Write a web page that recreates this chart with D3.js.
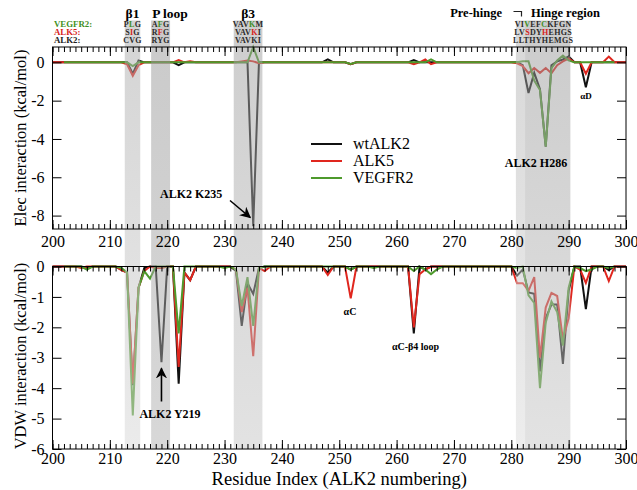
<!DOCTYPE html>
<html><head><meta charset="utf-8">
<script src="https://cdn.jsdelivr.net/npm/d3@7"></script>
<style>body{margin:0;background:#fff}svg{display:block;font-family:"Liberation Serif","Times New Roman",serif}</style>
</head><body><svg id="c" width="637" height="490"></svg>
<script>
// ---------------- data ----------------
const residues = d3.range(200, 301);
const seriesNames = ["wtALK2", "ALK5", "VEGFR2"];
const xTickLabels = [200,210,220,230,240,250,260,270,280,290,300];
const elecTickLabels = [0,-2,-4,-6,-8];
const vdwTickLabels = [0,-1,-2,-3,-4,-5,-6];

const elecALK2 = [
 0,0,0,0,0,0,0,0,0,0,
 0,0,0,0,-0.6,0.1,0,0,0,0,
 0,0,-0.15,0,0,0,0,0,0,0,
 0,0,0,0,0,-8.55,0,0,0,0,
 0,0,0,0,0,0,0,0,0.15,0,
 0,0,-0.1,0,0,0,0,0,0,0,
 0,0,0,0.12,0,0,0,0,0,0,
 0,0,0,0,0,0,0,0,0,0,
 0,0,-0.15,-1.6,-0.55,-1.4,-4.4,-0.15,0.05,0.15,
 0.3,0,0,-1.3,0,0,0,0,0,0,
 0];
const elecALK5 = [
 0,0,0,0,0,0,0,0,0,0,
 0,0,0,-0.1,-0.7,-0.15,0,0,0,0,
 0,0,0.12,0,0.06,0,0,0,0,0,
 0,0,0,0.05,0.1,0.05,-0.05,0,0,0,
 0,0,0,0,0,0,0,0,0,0,
 0,0,-0.1,0,0,0,0,0,0,0,
 0,0,0,-0.1,0,0.15,-0.1,0,0,0,
 0,0,0,0,0,0,0,0,0,0,
 0,-0.05,-0.2,-0.57,-0.3,-0.55,-0.3,-0.57,-0.15,0.05,
 0.2,0,0,-0.6,0,0,0,0.3,0,0,
 0];
const elecVEGFR2 = [
 null,null,0,0,0,0,0,0,0,0,
 0,0,0,0,-0.2,0,0,0,0,0,
 0,0,0,0,0,0,0,0,0,0,
 0,0,0,0,0,0.8,0,0,0,0,
 0,0,0,0,0,0,0,0,0,0,
 0,0,-0.08,0,0,0,0,0,0,0,
 0,0,0,0,0,0,0.15,0,0,0,
 0,0,0,0,0,0,0,0,0,0,
 0,0,0.05,0.05,-0.95,-1.45,-4.4,-0.3,0.1,0.35,
 0.1,0,0,0,0,0,0,0,0,null,
 null];

const vdwALK2 = [
 0,0,0,0,0,0,-0.05,0,0,0,
 0,0,-0.1,-0.2,-3.9,-0.7,-0.05,0,0,-3.15,
 0,0,-3.85,-0.2,-0.45,0,0,0,0,0,
 0,0,-0.15,-1.95,-0.55,-0.9,-0.05,0,0,0,
 0,0,0,0,0,0,0,0,-0.2,0,
 0,0,-0.1,0,0,0,0,0,0,0,
 0,0,0,-2.2,0,-0.1,0,0,0,0,
 0,0,0,0,0,0,0,0,0,0,
 0,-0.3,-0.1,-0.85,-0.9,-3.45,-1.7,-1.25,-1.25,-3.2,
 -0.8,0,0,-1.4,0,0,0,-0.12,0,0,
 0];
const vdwALK5 = [
 0,0,0,0,0,-0.05,0,0,0,0,
 0,0,-0.12,-0.2,-3.85,-0.7,-0.15,0,-0.05,-0.05,
 0,0,-3.3,-0.2,-0.45,0,0,0,0,0,
 0,0,-0.1,-1.5,-0.7,-2.95,-0.05,-0.15,0,0,
 0,0,0,0,0,0,0,0,-0.28,0,
 0,0,-1.05,0,0,0,0,0,0,0,
 0,0,0,-2.0,-0.25,-0.1,0,0,0,0,
 0,0,0,0,0,0,0,0,0,0,
 0,-0.55,-0.55,-0.8,-0.35,-3.0,-1.35,-0.87,-0.97,-2.4,
 -1.7,0,-0.1,-0.54,0,0,0,-0.48,0,0,
 0];
const vdwVEGFR2 = [
 null,null,0,0,0,0,-0.1,0,0,0,
 0,0,-0.05,-0.2,-4.9,-0.7,-0.15,-0.4,0,0,
 0,0,-2.2,0,0,0,0,0,0,0,
 -0.05,0,-0.1,-1.3,-0.35,-1.95,-0.05,0,0,0,
 0,0,0,0,0,0,0,0,0,0,
 0,0,-0.1,0,0,0,-0.05,0,0,0,
 0,0,0,-0.15,0,-0.1,-0.25,-0.1,0,0,
 0,0,0,0,0,0,0,0,0,0,
 0,-0.05,0,-0.95,-1.2,-4.0,-1.85,-1.15,-1.5,-2.6,
 -0.7,0,-0.05,-0.15,-0.1,0,0,-0.05,0,null,
 null];

// highlighted residue ranges (residue numbers)
const bandRanges = [[212.6,215.3],[217.2,220.5],[231.6,236.6],[280.8,282.4],[282.4,290.3]];
const regionNames = ["β1","P loop","β3"];
const seqSpecies = ["VEGFR2:","ALK5:","ALK2:"];
const seqVEGFR2 = ["PLG","AFG","VAVKM","VIVEFCKFGN"];
const seqALK5   = ["SIG","RFG","VAVKI","LVSDYHEHGS"];
const seqALK2   = ["CVG","RYG","VAVKI","LLTHYHEMGS"];
const seqMarkVEGFR2 = [[1],[1],[3],[2,5]];
const seqMarkALK5   = [[1],[1],[3],[2,5]];

// ---------------- drawing ----------------
const svg = d3.select("#c");
const colors = ["#111111","#e0261e","#4e9a2c"];
const seqColors = ["#3f8f25","#d8231c","#222"];
const X0 = 52.5, X1 = 626;
const x = d3.scaleLinear().domain([200,300]).range([X0,X1]);
const yE = d3.scaleLinear().domain([-8.7,0.8]).range([229,47]);
const yV = d3.scaleLinear().domain([-6,0]).range([449,266.5]);

function drawLines(yScale, arrays){
  arrays.forEach((arr,k)=>{
    const line = d3.line().defined(d=>d!=null)
      .x((d,i)=>x(residues[i])).y(d=>yScale(d));
    svg.append("path").datum(arr).attr("d",line)
      .attr("fill","none").attr("stroke",colors[k]).attr("stroke-width",2)
      .attr("stroke-linejoin","miter");
  });
}
drawLines(yE,[elecALK2,elecALK5,elecVEGFR2]);
drawLines(yV,[vdwALK2,vdwALK5,vdwVEGFR2]);

// bands (translucent overlay, darker at top)
const defs = svg.append("defs");
const bandTopBottom = [[168,215],[149,176],[155,198],[176,219],[151,198]];
bandRanges.forEach((b,i)=>{
  const g = defs.append("linearGradient").attr("id","bg"+i)
    .attr("gradientUnits","userSpaceOnUse").attr("x1",0).attr("x2",0).attr("y1",20).attr("y2",449);
  const [t,bt] = bandTopBottom[i];
  g.append("stop").attr("offset",0).attr("stop-color",`rgb(${t},${t},${t})`).attr("stop-opacity",0.5);
  g.append("stop").attr("offset",1).attr("stop-color",`rgb(${bt},${bt},${bt})`).attr("stop-opacity",0.5);
  svg.append("rect").attr("x",x(b[0])).attr("width",x(b[1])-x(b[0]))
    .attr("y",20.5).attr("height",428.5).attr("fill",`url(#bg${i})`);
});

// frames and axes
function panel(yScale, ticks, top, bottom, labelPad){
  svg.append("rect").attr("x",X0).attr("y",top).attr("width",X1-X0).attr("height",bottom-top)
    .attr("fill","none").attr("stroke","#000").attr("stroke-width",1);
  const style = g=>{ g.select(".domain").remove();
    g.selectAll("text").attr("font-family","Liberation Serif, serif").attr("font-size",16).attr("fill","#000");
    g.selectAll("line").attr("stroke","#000"); };
  svg.append("g").attr("transform",`translate(0,${bottom})`)
    .call(d3.axisBottom(x).tickValues(xTickLabels).tickSize(-9).tickPadding(labelPad).tickFormat(d=>String(d))).call(style);
  svg.append("g").attr("transform",`translate(0,${bottom})`)
    .call(d3.axisBottom(x).tickValues(residues).tickSize(-5).tickFormat("")).call(style);
  svg.append("g").attr("transform",`translate(0,${top})`)
    .call(d3.axisTop(x).tickValues(xTickLabels).tickSize(-9).tickFormat("")).call(style);
  svg.append("g").attr("transform",`translate(0,${top})`)
    .call(d3.axisTop(x).tickValues(residues).tickSize(-5).tickFormat("")).call(style);
  svg.append("g").attr("transform",`translate(${X0},0)`)
    .call(d3.axisLeft(yScale).tickValues(ticks).tickSize(-9).tickPadding(8).tickFormat(d=>String(d))).call(style);
  svg.append("g").attr("transform",`translate(${X1},0)`)
    .call(d3.axisRight(yScale).tickValues(ticks).tickSize(-9).tickFormat("")).call(style);
}
panel(yE, elecTickLabels, 47, 229, 7);
panel(yV, vdwTickLabels, 266.5, 449, 4);

// axis titles
svg.append("text").attr("x",(X0+X1)/2).attr("y",484.5).attr("text-anchor","middle")
  .attr("font-size",18.5).text("Residue Index (ALK2 numbering)");
svg.append("text").attr("transform","translate(26,138) rotate(-90)").attr("text-anchor","middle")
  .attr("font-size",16.5).text("Elec interaction (kcal/mol)");
svg.append("text").attr("transform","translate(26,356) rotate(-90)").attr("text-anchor","middle")
  .attr("font-size",16.5).text("VDW interaction (kcal/mol)");

// legend
seriesNames.forEach((n,i)=>{
  const yy = 149 + i*17;
  svg.append("line").attr("x1",311).attr("x2",342).attr("y1",yy-5).attr("y2",yy-5)
    .attr("stroke",colors[i]).attr("stroke-width",2);
  svg.append("text").attr("x",353).attr("y",yy).attr("font-size",16).text(n);
});

// header: region names
const bold = s=>s.attr("font-weight","bold");
const regionCenters = bandRanges.slice(0,3).map(b=>(x(b[0])+x(b[1]))/2);
regionNames.forEach((n,i)=>{
  svg.append("text").attr("x", i===1 ? x(bandRanges[1][0])+1 : regionCenters[i]).attr("y",17.5)
    .attr("text-anchor", i===1 ? "start" : "middle").attr("font-size",13.5).call(bold).text(n);
});
svg.append("text").attr("x",502).attr("y",16.5).attr("text-anchor","end").attr("font-size",12.5).call(bold).text("Pre-hinge");
svg.append("path").attr("d","M513.5,11.5 H521.5 V16.5").attr("fill","none").attr("stroke","#222").attr("stroke-width",1.2);
svg.append("text").attr("x",531).attr("y",16.5).attr("font-size",12.5).call(bold).text("Hinge region");

// species labels and sequences
const rowsY = [27,35,43];
seqSpecies.forEach((s,i)=>{
  svg.append("text").attr("x",54).attr("y",rowsY[i]).attr("font-size",8.8).call(bold)
    .attr("fill",seqColors[i]).text(s);
});
const seqCenters = [regionCenters[0],regionCenters[1],regionCenters[2],(x(bandRanges[3][0])+x(bandRanges[4][1]))/2];
[seqVEGFR2,seqALK5,seqALK2].forEach((row,ri)=>{
  const marks = ri===0?seqMarkVEGFR2:ri===1?seqMarkALK5:[[],[],[],[]];
  row.forEach((str,j)=>{
    const t = svg.append("text").attr("x",seqCenters[j]).attr("y",rowsY[ri]).attr("text-anchor","middle")
      .attr("font-size",8).call(bold).attr("letter-spacing",0.3);
    str.split("").forEach((ch,k)=>{
      t.append("tspan").attr("fill", marks[j].includes(k) ? seqColors[ri] : "#2a2a2a").text(ch);
    });
  });
});

// annotations
const arrowDefs = defs.append("marker").attr("id","ah").attr("viewBox","0 0 10 10").attr("refX",9).attr("refY",5)
  .attr("markerWidth",7).attr("markerHeight",7).attr("orient","auto-start-reverse");
arrowDefs.append("path").attr("d","M0,0 L10,5 L0,10 L3,5 Z").attr("fill","#000");
svg.append("text").attr("x",160).attr("y",198).attr("font-size",12).call(bold).text("ALK2 K235");
svg.append("line").attr("x1",230).attr("y1",200.5).attr("x2",x(235)-3).attr("y2",yE(-8.1))
  .attr("stroke","#000").attr("stroke-width",1.6).attr("marker-end","url(#ah)");
svg.append("text").attr("x",536).attr("y",167).attr("text-anchor","middle").attr("font-size",12).call(bold).text("ALK2 H286");
svg.append("text").attr("x",586).attr("y",99).attr("text-anchor","middle").attr("font-size",9).call(bold).text("αD");
svg.append("text").attr("x",170).attr("y",418).attr("text-anchor","middle").attr("font-size",12).call(bold).text("ALK2 Y219");
svg.append("line").attr("x1",x(219)).attr("y1",401.5).attr("x2",x(219)).attr("y2",yV(-3.35))
  .attr("stroke","#000").attr("stroke-width",1.6).attr("marker-end","url(#ah)");
svg.append("text").attr("x",350).attr("y",315).attr("text-anchor","middle").attr("font-size",10).call(bold).text("αC");
svg.append("text").attr("x",415.5).attr("y",350).attr("text-anchor","middle").attr("font-size",10).call(bold).text("αC-β4 loop");
</script></body></html>
